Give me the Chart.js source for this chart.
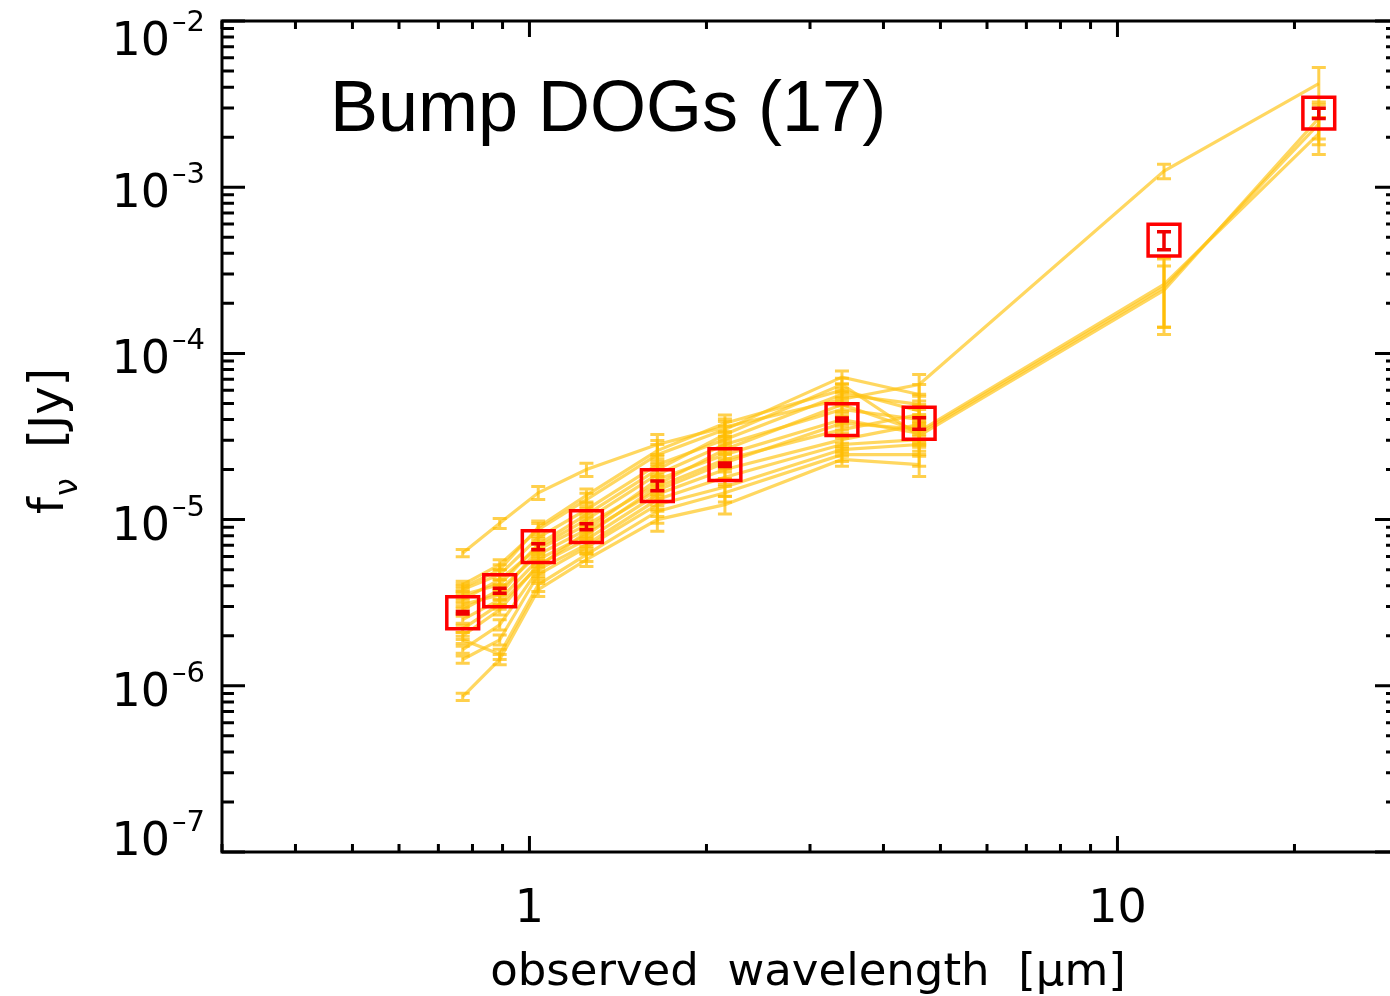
<!DOCTYPE html>
<html>
<head>
<meta charset="utf-8">
<script src="https://cdn.jsdelivr.net/npm/chart.js@4.4.1/dist/chart.umd.min.js"></script>
<style>
  html, body { margin: 0; padding: 0; background: #fff; overflow: hidden; }
  #wrap { position: absolute; left: 0; top: 0; width: 1400px; height: 996px; }
</style>
</head>
<body>
<div id="wrap"><canvas id="sed" width="1400" height="996"></canvas></div>
<script>
// observed wavelength of each band [micron]
const wavelengths = [0.77, 0.89, 1.035, 1.25, 1.65, 2.15, 3.4, 4.6, 12, 22];

// median SED (red squares) and its error, f_nu [Jy]
const medianFlux = [2.75e-6, 3.73e-6, 6.87e-6, 9.07e-6, 1.60e-5, 2.14e-5, 4.0e-5, 3.8e-5, 4.8e-4, 2.79e-3];
const medianErr  = [0.05e-6, 0.13e-6, 0.28e-6, 0.37e-6, 1.1e-6, 0.5e-6, 0.8e-6, 3.0e-6, 0.6e-4, 0.2e-3];

// individual sources, f_nu [Jy]; the first four are also detected at 12 and 22 micron
const src01 = [6.3e-6, 9.5e-6, 1.45e-5, 2.0e-5, 2.83e-5, 3.6e-5, 5.3e-5, 6.5e-5, 1.25e-3, 4.2e-3];
const src02 = [2.87e-6, 3.79e-6, 6.15e-6, 8.7e-6, 1.74e-5, 2.46e-5, 4.0e-5, 3.3e-5, 2.5e-4, 2.4e-3];
const src03 = [3.53e-6, 4.06e-6, 7.07e-6, 1.07e-5, 2.0e-5, 3.25e-5, 6.5e-5, 3.2e-5, 2.4e-4, 2.6e-3];
const src04 = [3.08e-6, 3.53e-6, 6.6e-6, 9.3e-6, 1.63e-5, 2.64e-5, 4.93e-5, 3.4e-5, 2.6e-4, 2.1e-3];
const src05 = [4.06e-6, 5.36e-6, 8.7e-6, 1.32e-5, 2.46e-5, 3.48e-5, 7.2e-5, 5.66e-5];
const src06 = [3.79e-6, 4.67e-6, 7.8e-6, 1.15e-5, 2.14e-5, 3.03e-5, 5.66e-5, 4.93e-5];
const src07 = [3.3e-6, 4.35e-6, 6.8e-6, 1.0e-5, 1.87e-5, 2.83e-5, 4.6e-5, 4.0e-5];
const src08 = [2.5e-6, 3.3e-6, 5.74e-6, 8.1e-6, 1.57e-5, 2.3e-5, 3.48e-5, 4.29e-5];
const src09 = [2.0e-6, 2.87e-6, 5.36e-6, 7.58e-6, 1.42e-5, 2.0e-5, 3.03e-5, 3.73e-5];
const src10 = [1.65e-6, 2.33e-6, 5.0e-6, 7.07e-6, 1.32e-5, 1.8e-5, 2.83e-5, 3.03e-5];
const src11 = [1.44e-6, 1.89e-6, 4.67e-6, 6.8e-6, 1.23e-5, 1.57e-5, 2.64e-5, 2.83e-5];
const src12 = [1.89e-6, 1.55e-6, 4.06e-6, 6.15e-6, 1.12e-5, 1.45e-5, 2.46e-5, 2.46e-5];
const src13 = [8.6e-7, 1.44e-6, 3.79e-6, 5.74e-6, 1.0e-5, 1.23e-5, 2.3e-5, 2.14e-5];
const src14 = [3.9e-6, 5.0e-6, 9.0e-6, 1.4e-5, 2.6e-5, 3.8e-5, 6.0e-5, 4.5e-5];
const src15 = [2.2e-6, 3.1e-6, 5.2e-6, 8.4e-6, 1.5e-5, 2.2e-5, 3.8e-5, 3.5e-5];
const sources = [src01, src02, src03, src04, src05, src06, src07, src08, src09, src10, src11, src12, src13, src14, src15];

// typical fractional error per band, and the 12 / 22 micron errors of the first four sources
const bandRelErr = [0.05, 0.07, 0.09, 0.09, 0.15, 0.12, 0.09, 0.15];
const midIrRelErr = [[0.10, 0.25], [0.48, 0.25], [0.40, 0.25], [0.45, 0.25]];

// axis ranges and labelled ticks
const xRange = [0.3, 30];
const yRange = [1e-7, 1e-2];
const xTickLabels = [1, 10];
const yTickExponents = [-7, -6, -5, -4, -3, -2];

const YELLOW_LINE = 'rgba(255, 196, 20, 0.68)';
const YELLOW_ERR = 'rgba(255, 188, 0, 0.7)';
const RED = '#ff0000';
const SANS = '"DejaVu Sans", sans-serif';

function points(values) {
  return values.map((v, k) => ({ x: wavelengths[k], y: v }));
}

function relErrFor(i, k) {
  if (k < bandRelErr.length) return bandRelErr[k];
  return midIrRelErr[i][k - bandRelErr.length];
}

const datasets = [{
  label: 'median',
  data: points(medianFlux),
  errors: medianErr,
  errColor: '#f00000',
  errCap: 7,
  errWidth: 3.5,
  showLine: false,
  pointStyle: 'rect',
  pointRadius: 22.5,
  pointBorderWidth: 3.5,
  pointBorderColor: RED,
  pointBackgroundColor: 'rgba(0,0,0,0)'
}];

sources.forEach((vals, i) => {
  datasets.push({
    label: 'DOG ' + (i + 1),
    data: points(vals),
    errors: vals.map((v, k) => v * relErrFor(i, k)),
    errColor: YELLOW_ERR,
    errCap: 7,
    errWidth: 3,
    showLine: true,
    borderColor: YELLOW_LINE,
    borderWidth: 3.2,
    tension: 0,
    pointRadius: 0
  });
});

// vertical error bars with caps, drawn right after each dataset
const errorBars = {
  id: 'errorBars',
  afterDatasetDraw(chart, args) {
    const ds = chart.data.datasets[args.index];
    if (!ds.errors) return;
    const { ctx, chartArea } = chart;
    const xs = chart.scales.x, ys = chart.scales.y;
    ctx.save();
    ctx.beginPath();
    ctx.rect(chartArea.left, chartArea.top, chartArea.right - chartArea.left, chartArea.bottom - chartArea.top);
    ctx.clip();
    ctx.strokeStyle = ds.errColor;
    ctx.lineWidth = ds.errWidth;
    ds.data.forEach((p, k) => {
      const e = ds.errors[k];
      const px = xs.getPixelForValue(p.x);
      const hi = ys.getPixelForValue(p.y + e);
      const lo = ys.getPixelForValue(Math.max(p.y - e, yRange[0]));
      ctx.beginPath();
      ctx.moveTo(px, hi); ctx.lineTo(px, lo);
      ctx.moveTo(px - ds.errCap, hi); ctx.lineTo(px + ds.errCap, hi);
      ctx.moveTo(px - ds.errCap, lo); ctx.lineTo(px + ds.errCap, lo);
      ctx.stroke();
    });
    ctx.restore();
  }
};

function logTickValues(range) {
  const out = [];
  const e0 = Math.floor(Math.log10(range[0]));
  const e1 = Math.ceil(Math.log10(range[1]));
  for (let e = e0; e <= e1; e++) {
    for (let m = 1; m <= 9; m++) {
      const v = m * Math.pow(10, e);
      if (v >= range[0] * 0.9999 && v <= range[1] * 1.0001) out.push({ v, major: m === 1 });
    }
  }
  return out;
}

// IDL-style frame: box with inward ticks on all four sides, labels and titles
const frame = {
  id: 'frame',
  afterDraw(chart) {
    const { ctx, chartArea: a } = chart;
    const xs = chart.scales.x, ys = chart.scales.y;
    ctx.save();
    ctx.strokeStyle = '#000';
    ctx.fillStyle = '#000';
    ctx.lineWidth = 3;
    ctx.lineCap = 'butt';
    ctx.strokeRect(a.left, a.top, a.right - a.left, a.bottom - a.top);

    ctx.beginPath();
    logTickValues(xRange).forEach(t => {
      const px = xs.getPixelForValue(t.v);
      const len = t.major ? 16 : 8;
      ctx.moveTo(px, a.bottom); ctx.lineTo(px, a.bottom - len);
      ctx.moveTo(px, a.top); ctx.lineTo(px, a.top + len);
    });
    logTickValues(yRange).forEach(t => {
      const py = ys.getPixelForValue(t.v);
      const len = t.major ? 23 : 12;
      ctx.moveTo(a.left, py); ctx.lineTo(a.left + len, py);
      ctx.moveTo(a.right, py); ctx.lineTo(a.right - len, py);
    });
    ctx.stroke();

    // x tick labels
    ctx.font = '46px ' + SANS;
    ctx.textAlign = 'center';
    ctx.textBaseline = 'alphabetic';
    xTickLabels.forEach(v => {
      ctx.fillText(String(v), xs.getPixelForValue(v), 922);
    });

    // y tick labels 10^n
    yTickExponents.forEach(n => {
      const py = ys.getPixelForValue(Math.pow(10, n));
      const base = Math.min(Math.max(py + 20, a.top + 34), a.bottom + 3);
      ctx.textAlign = 'right';
      ctx.font = '29px ' + SANS;
      const ex = '\u2013' + Math.abs(n);
      const exRight = a.left - 17;
      ctx.fillText(ex, exRight, base - 24);
      const exW = ctx.measureText(ex).width;
      ctx.font = '46px ' + SANS;
      ctx.fillText('10', exRight - exW - 2, base);
    });

    // x axis title
    ctx.font = '45px ' + SANS;
    ctx.textAlign = 'center';
    ctx.fillText('observed  wavelength  [\u03bcm]', 808, 985);

    // y axis title, rotated
    ctx.save();
    ctx.translate(63, 514);
    ctx.rotate(-Math.PI / 2);
    ctx.textAlign = 'left';
    ctx.font = '48px ' + SANS;
    ctx.fillText('f', 0, 0);
    let w = ctx.measureText('f').width + 1;
    ctx.font = '32px ' + SANS;
    ctx.fillText('\u03bd', w, 14);
    w += ctx.measureText('\u03bd').width;
    ctx.font = '48px ' + SANS;
    ctx.fillText('  [Jy]', w, 0);
    ctx.restore();

    // panel title
    ctx.font = '72px "Liberation Sans", Arial, sans-serif';
    ctx.textAlign = 'left';
    ctx.fillText('Bump DOGs (17)', 330, 131);
    ctx.restore();
  }
};

new Chart(document.getElementById('sed'), {
  type: 'scatter',
  data: { datasets },
  options: {
    responsive: false,
    animation: false,
    layout: { autoPadding: false, padding: { left: 222, right: 2, top: 21, bottom: 144 } },
    plugins: { legend: { display: false }, tooltip: { enabled: false } },
    scales: {
      x: { type: 'logarithmic', min: xRange[0], max: xRange[1], display: false },
      y: { type: 'logarithmic', min: yRange[0], max: yRange[1], display: false }
    }
  },
  plugins: [errorBars, frame]
});
</script>
</body>
</html>
